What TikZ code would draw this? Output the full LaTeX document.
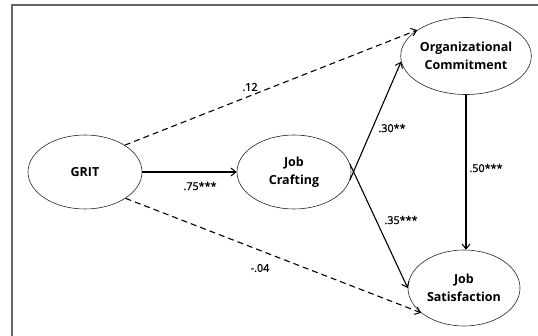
\documentclass[tikz,border=0pt]{standalone}
\usepackage{fontspec}
\setmainfont{Open Sans}
\newfontfamily\coeffont[FakeBold=1.2]{Open Sans}
\usetikzlibrary{arrows.meta,shapes.geometric}
\begin{document}
\begin{tikzpicture}[x=1pt,y=-1pt,
  construct/.style={draw=black!85,line width=0.6pt,ellipse,inner sep=0pt,
    align=center,font=\bfseries\fontsize{12.5}{18}\selectfont},
  path/.style={line width=1.1pt,-{Straight Barb[length=5pt,width=8pt,line width=1pt]}},
  nonsig/.style={path,dash pattern=on 6pt off 4pt},
  coef/.style={font=\coeffont\fontsize{10.8}{13}\selectfont,inner sep=1pt}]
  \useasboundingbox (0,0) rectangle (538,336);
  % outer frame (open to the right and bottom)
  \draw[black!60,line width=1.3pt] (12,336) -- (12,5) -- (538,5);

  % constructs
  \node[construct,minimum width=114pt,minimum height=74pt] (grit) at (85,172) {GRIT};
  \node[construct,minimum width=114pt,minimum height=74pt] (jc) at (294,172) {Job\\Crafting};
  \node[construct,minimum width=108pt,minimum height=77pt] (oc) at (466,56) {Organizational\\Commitment};
  \node[construct,minimum width=112pt,minimum height=76pt] (js) at (464,288) {Job\\Satisfaction};

  % paths
  \draw[path] (grit.east) -- (jc.west);
  \draw[nonsig] (grit.34) -- (oc.152);
  \draw[nonsig] (grit.-33) -- (js.210);
  \draw[path] (jc.-8) -- (oc.185);
  \draw[path] (jc.8) -- (js.180);
  \draw[path] (oc.south) -- (oc.south |- js.north);

  % coefficients
  \node[coef] (c1) at (250,87) {.12};
  \node[coef] (c2) at (200,186) {.75***};
  \node[coef] (c3) at (260,268) {-.04};
  \node[coef] (c4) at (392,128) {.30**};
  \node[coef] (c5) at (401,220) {.35***};
  \node[coef] (c6) at (486,168) {.50***};
\end{tikzpicture}
\end{document}
